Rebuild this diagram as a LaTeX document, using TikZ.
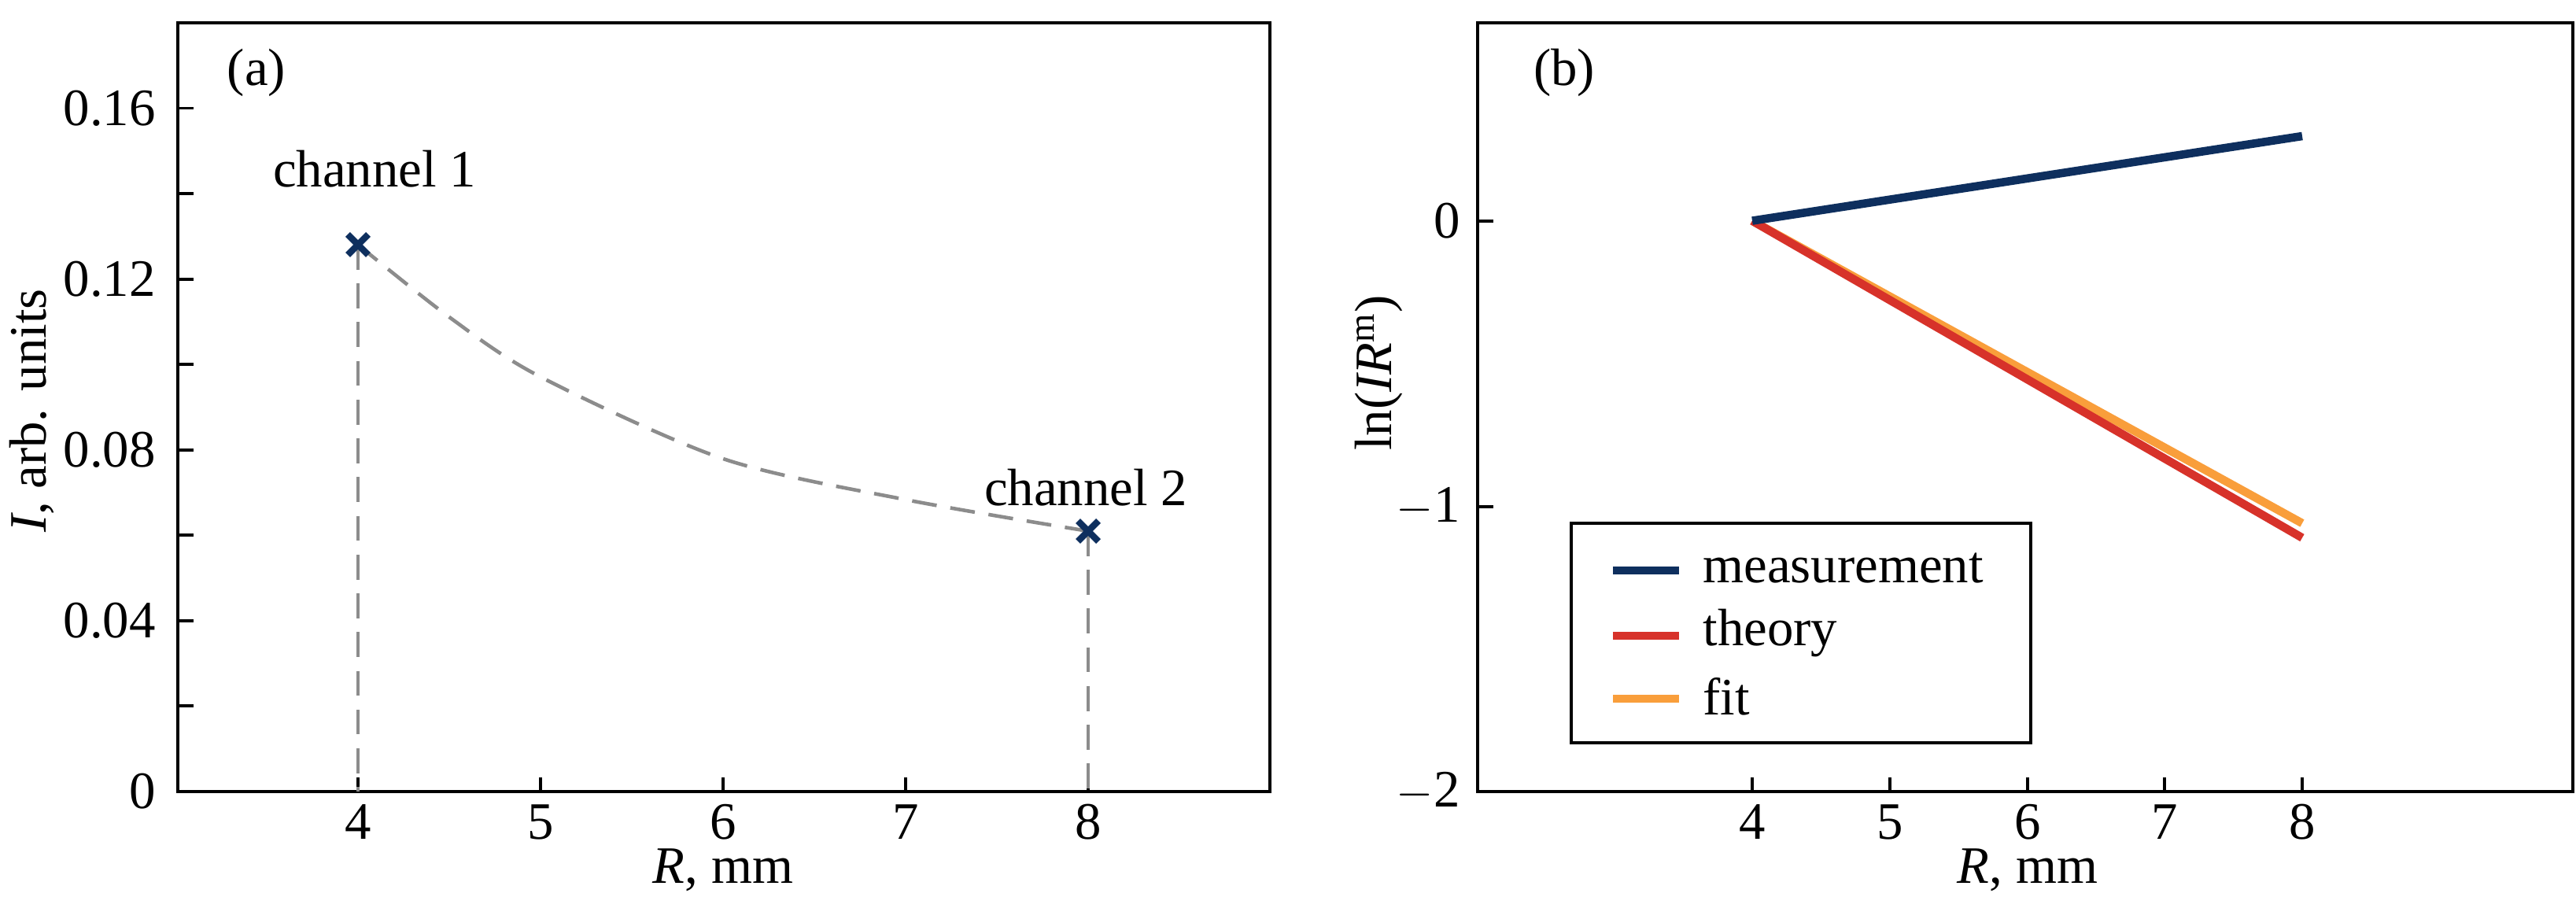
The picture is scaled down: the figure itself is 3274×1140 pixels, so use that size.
\documentclass[tikz,border=0pt]{standalone}
\usepackage{fontspec}
\setmainfont{Liberation Serif}
\usetikzlibrary{calc}
\begin{document}
\begin{tikzpicture}[x=0.01cm,y=-0.01cm,
  every node/.style={font=\fontsize{19}{22}\selectfont},
  box/.style={line width=1.4pt},
  tick/.style={line width=1.1pt},
  guide/.style={gray!90,dashed,line width=1.3pt,dash pattern=on 9pt off 5pt},
  xmark/.style={draw=navy,line width=2.4pt},
  dataline/.style={line width=3pt}]
\definecolor{navy}{HTML}{0E2F5E}
\definecolor{tred}{HTML}{D7322A}
\definecolor{forange}{HTML}{F99E3B}
\useasboundingbox (0,0) rectangle (3274,1140);
% ---------- panel (a)
\draw[box] (226,29) rectangle (1614,1006);
\foreach \x/\l in {455/4,687/5,919/6,1151/7,1383/8}{
  \draw[tick] (\x,1006) -- (\x,988);
  \node[anchor=north] at (\x,1010) {\l};}
\foreach \y in {897.4,788.9,680.3,571.8,463.2,354.6,246.1,137.5}
  \draw[tick] (226,\y) -- (246,\y);
\foreach \y/\l in {1006/0,788.9/0.04,571.8/0.08,354.6/0.12,137.5/0.16}
  \node[anchor=east] at (210,\y) {\l};
\node (xla) at (919,1106) {\textit{R}, mm};
\node[rotate=90] (yla) at (40,522) {\textit{I}, arb. units};
\node (pa) at (326,92) {(a)};
\coordinate (c1) at (455,311);
\coordinate (c2) at (1383,675);
\coordinate (b1) at (455,1006);
\coordinate (b2) at (1383,1006);
\draw[guide] plot[smooth] coordinates {(455,311) (571,403) (687,479) (919,583) (1151,635) (1383,675)};
\draw[guide] (c1) -- (b1);
\draw[guide] (c2) -- (b2);
\draw[xmark] ($(c1)+(-13,-13)$) -- ($(c1)+(13,13)$) ($(c1)+(-13,13)$) -- ($(c1)+(13,-13)$);
\draw[xmark] ($(c2)+(-13,-13)$) -- ($(c2)+(13,13)$) ($(c2)+(-13,13)$) -- ($(c2)+(13,-13)$);
\node (ch1) at (476,215) {channel 1};
\node (ch2) at (1380,620) {channel 2};
% ---------- panel (b)
\draw[box] (1878,29) rectangle (3270,1006);
\foreach \x/\l in {2227/4,2402/5,2577/6,2751/7,2926/8}{
  \draw[tick] (\x,1006) -- (\x,988);
  \node[anchor=north] at (\x,1010) {\l};}
\foreach \y/\l in {280.6/0,643.6/$-$1,1006/$-$2}{
  \draw[tick] (1878,\y) -- (1898,\y);
  \node[anchor=east] at (1868,\y) {\l};}
\node (xlb) at (2577,1106) {\textit{R}, mm};
\node[rotate=90] (ylb) at (1752,474) {ln(\textit{IR}$^{\mathrm{m}}$)};
\node (pb) at (1988,92) {(b)};
\coordinate (o) at (2227,280.6);
\coordinate (me) at (2926,173);
\coordinate (te) at (2926,683.5);
\coordinate (fe) at (2926,665);
\draw[dataline,forange] (o) -- (fe);
\draw[dataline,tred] (o) -- (te);
\draw[dataline,navy] (o) -- (me);
% legend
\draw[line width=1.2pt,fill=white] (1997,665) rectangle (2581,944);
\draw[dataline,navy] (2050,725) -- (2134,725);
\draw[dataline,tred] (2050,808) -- (2134,808);
\draw[dataline,forange] (2050,888) -- (2134,888);
\node[anchor=west] (l1) at (2152,722) {measurement};
\node[anchor=west] (l2) at (2152,805) {theory};
\node[anchor=west] (l3) at (2152,885) {fit};
\end{tikzpicture}
\end{document}
